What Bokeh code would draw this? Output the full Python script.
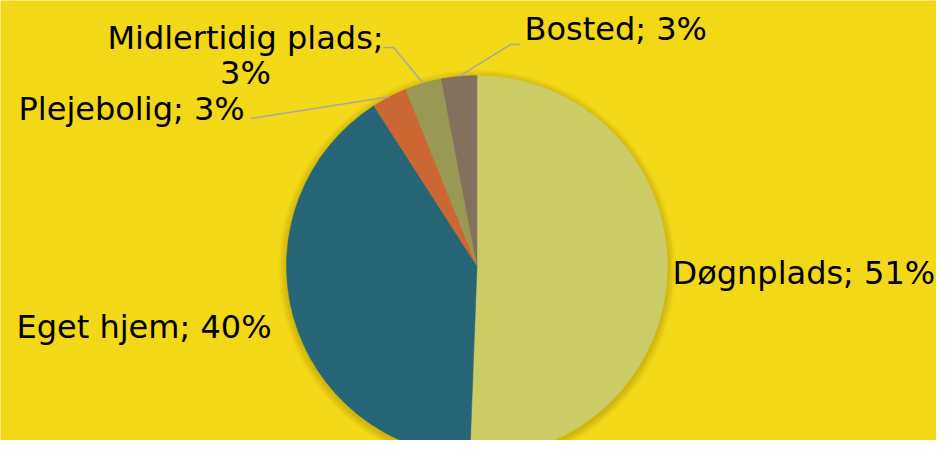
import numpy as np
from bokeh.plotting import figure
from bokeh.models import Range1d, ColumnDataSource
from bokeh.embed import file_html
from bokeh.resources import INLINE
from bokeh.core.properties import value

# ---- data ----
categories = ["Døgnplads", "Eget hjem", "Plejebolig", "Midlertidig plads", "Bosted"]
shares = [50.6, 40.3, 3.0, 3.1, 3.0]
pct_labels = ["51%", "40%", "3%", "3%", "3%"]
colors = ["#CCCC66", "#276676", "#CC6633", "#999955", "#837160"]

# ---- layout (reference pixel coordinates) ----
W, H = 936, 440
BG = "#F3D817"
CX, CY, R = 476.5, 265.5, 190.5
OFF = 11  # baseline compensation


def Y(py):
    return 456 - py


p = figure(width=W, height=H, output_backend="svg", toolbar_location=None,
           x_range=Range1d(0, 936), y_range=Range1d(16, 456),
           min_border=0, background_fill_color=BG, border_fill_color=BG,
           outline_line_color=None)
p.axis.visible = False
p.grid.visible = False

# soft shadow
for k in range(1, 10):
    p.circle(x=CX, y=Y(CY) - 2, radius=R + k * 0.9, fill_color="black",
             fill_alpha=0.014, line_color=None)

frac = np.array(shares) / sum(shares)
cum = np.concatenate([[0], np.cumsum(frac)])
start = np.pi / 2 - 2 * np.pi * cum[:-1]
end = np.pi / 2 - 2 * np.pi * cum[1:]
mid = (start + end) / 2

src = ColumnDataSource(dict(start=start, end=end, color=colors, cat=categories))
p.wedge(x=CX, y=Y(CY), radius=R, start_angle="start", end_angle="end",
        direction="clock", fill_color="color", line_color="color",
        line_width=0.5, source=src)

# leader lines for the small slices
ex = CX + R * np.cos(mid)
ey = Y(CY) + R * np.sin(mid)
lead_col = "#A8A8A0"
p.line([ex[2], 250], [ey[2], Y(118)], line_color=lead_col, line_width=1.5)
p.line([ex[3], 393, 383], [ey[3], Y(47), Y(47)], line_color=lead_col, line_width=1.5)
p.line([ex[4], 510, 519], [ey[4], Y(44), Y(44)], line_color=lead_col, line_width=1.5)

font = value("DejaVu Sans")
fs = "32px"
txt = dict(text_font=font, text_font_size=fs, text_color="#000000",
           text_baseline="alphabetic")

p.text(x=[672], y=[Y(283 - OFF)], text=[f"{categories[0]}; {pct_labels[0]}"], text_align="left", **txt)
p.text(x=[16], y=[Y(337 - OFF)], text=[f"{categories[1]}; {pct_labels[1]}"], text_align="left", **txt)
p.text(x=[18], y=[Y(119 - OFF)], text=[f"{categories[2]}; {pct_labels[2]}"], text_align="left", **txt)
p.text(x=[245], y=[Y(48 - OFF)], text=[f"{categories[3]};"], text_align="center", **txt)
p.text(x=[245], y=[Y(83 - OFF)], text=[pct_labels[3]], text_align="center", **txt)
p.text(x=[524], y=[Y(39 - OFF)], text=[f"{categories[4]}; {pct_labels[4]}"], text_align="left", **txt)

open("out.html", "w").write(file_html(p, INLINE))
